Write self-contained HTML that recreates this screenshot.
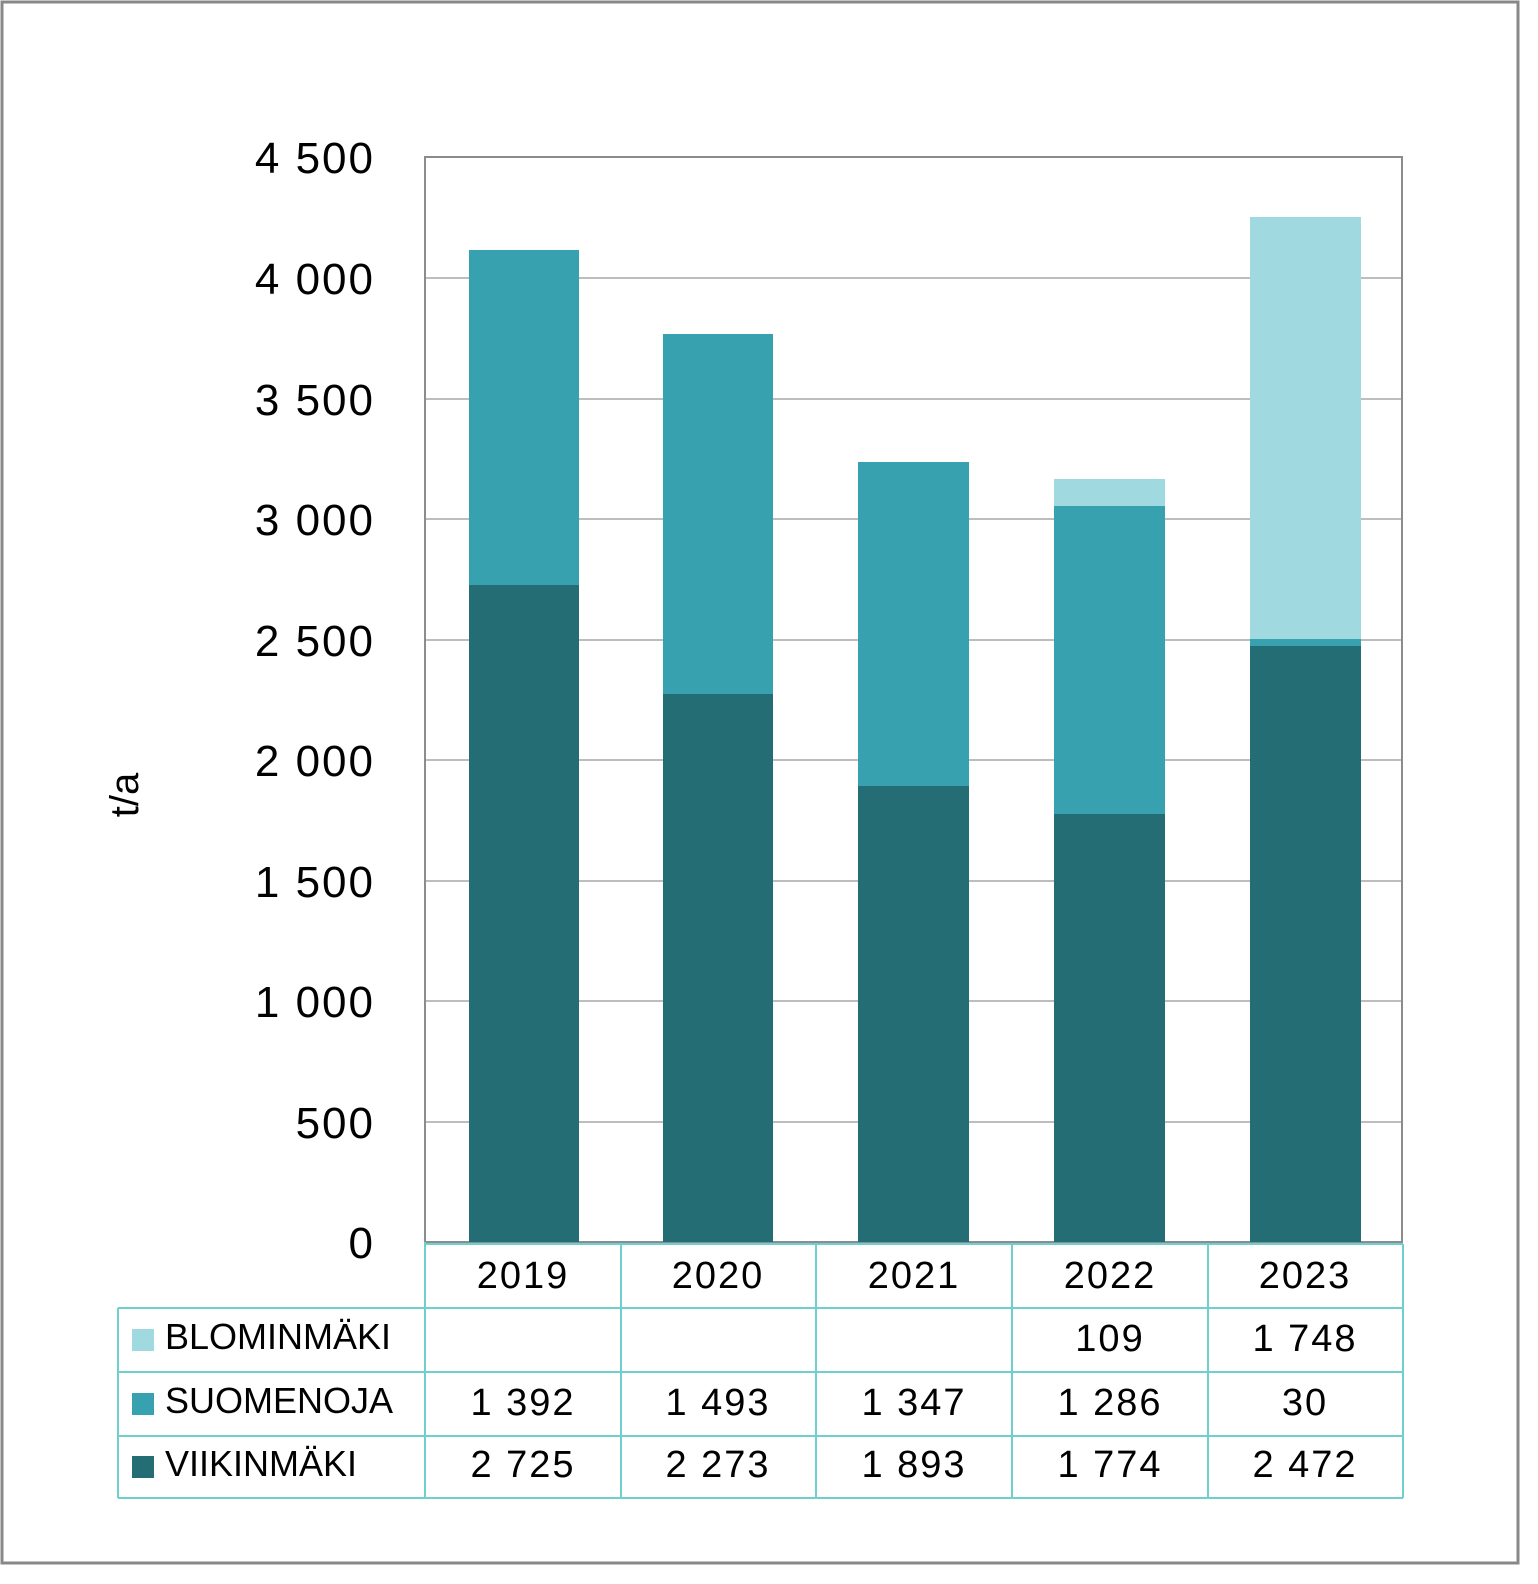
<!DOCTYPE html>
<html><head><meta charset="utf-8"><style>
html,body{margin:0;padding:0;background:#fff;}
body{width:1538px;height:1584px;position:relative;overflow:hidden;font-family:"Liberation Sans","DejaVu Sans",sans-serif;}
</style></head><body>
<svg width="1538" height="1584" xmlns="http://www.w3.org/2000/svg" style="position:absolute;left:0;top:0">
<rect x="2" y="2" width="1516" height="1561" fill="#fff" stroke="#888" stroke-width="3"/>
<g stroke="#bdbdbd" stroke-width="2">
<line x1="425" x2="1402" y1="278" y2="278"/>
<line x1="425" x2="1402" y1="399" y2="399"/>
<line x1="425" x2="1402" y1="519" y2="519"/>
<line x1="425" x2="1402" y1="640" y2="640"/>
<line x1="425" x2="1402" y1="760" y2="760"/>
<line x1="425" x2="1402" y1="881" y2="881"/>
<line x1="425" x2="1402" y1="1001" y2="1001"/>
<line x1="425" x2="1402" y1="1122" y2="1122"/>
</g>
<rect x="425" y="157" width="977" height="1085" fill="none" stroke="#8c8c8c" stroke-width="2"/>
<g>
<rect x="469" y="585" width="110" height="657" fill="#256d75"/>
<rect x="469" y="250" width="110" height="335" fill="#38a1b0"/>
<rect x="663" y="694" width="110" height="548" fill="#256d75"/>
<rect x="663" y="334" width="110" height="360" fill="#38a1b0"/>
<rect x="858" y="786" width="111" height="456" fill="#256d75"/>
<rect x="858" y="462" width="111" height="324" fill="#38a1b0"/>
<rect x="1054" y="814" width="111" height="428" fill="#256d75"/>
<rect x="1054" y="506" width="111" height="308" fill="#38a1b0"/>
<rect x="1054" y="479" width="111" height="27" fill="#a1d9e0"/>
<rect x="1250" y="646" width="111" height="596" fill="#256d75"/>
<rect x="1250" y="639" width="111" height="7" fill="#38a1b0"/>
<rect x="1250" y="217" width="111" height="422" fill="#a1d9e0"/>
</g>
<g font-size="44" fill="#000" text-anchor="end" letter-spacing="2">
<text x="375" y="173">4 500</text>
<text x="375" y="294">4 000</text>
<text x="375" y="415">3 500</text>
<text x="375" y="535">3 000</text>
<text x="375" y="656">2 500</text>
<text x="375" y="776">2 000</text>
<text x="375" y="897">1 500</text>
<text x="375" y="1017">1 000</text>
<text x="375" y="1138">500</text>
<text x="375" y="1258">0</text>
</g>
<text transform="translate(138,795) rotate(-90)" font-size="40" text-anchor="middle">t/a</text>
<g stroke="#6fcfcf" stroke-width="2" fill="none">
<line x1="425" x2="1403" y1="1244" y2="1244"/>
<line x1="118" x2="1403" y1="1308" y2="1308"/>
<line x1="118" x2="1403" y1="1372" y2="1372"/>
<line x1="118" x2="1403" y1="1436" y2="1436"/>
<line x1="118" x2="1403" y1="1498" y2="1498"/>
<line x1="118" x2="118" y1="1308" y2="1498"/>
<line x1="425" x2="425" y1="1242" y2="1498"/>
<line x1="621" x2="621" y1="1244" y2="1498"/>
<line x1="816" x2="816" y1="1244" y2="1498"/>
<line x1="1012" x2="1012" y1="1244" y2="1498"/>
<line x1="1208" x2="1208" y1="1244" y2="1498"/>
<line x1="1403" x2="1403" y1="1244" y2="1498"/>
</g>
<rect x="132" y="1329" width="22" height="22" fill="#a1d9e0"/>
<rect x="132" y="1393" width="22" height="22" fill="#38a1b0"/>
<rect x="132" y="1456" width="22" height="22" fill="#256d75"/>
<g font-size="36" fill="#000">
<text x="165" y="1349">BLOMINMÄKI</text>
<text x="165" y="1413">SUOMENOJA</text>
<text x="165" y="1476">VIIKINMÄKI</text>
</g>
<g font-size="38" fill="#000" text-anchor="middle" letter-spacing="2">
<text x="523" y="1288">2019</text><text x="718" y="1288">2020</text><text x="914" y="1288">2021</text><text x="1110" y="1288">2022</text><text x="1305" y="1288">2023</text>
<text x="1110" y="1351">109</text><text x="1305" y="1351">1 748</text>
<text x="523" y="1415">1 392</text><text x="718" y="1415">1 493</text><text x="914" y="1415">1 347</text><text x="1110" y="1415">1 286</text><text x="1305" y="1415">30</text>
<text x="523" y="1477">2 725</text><text x="718" y="1477">2 273</text><text x="914" y="1477">1 893</text><text x="1110" y="1477">1 774</text><text x="1305" y="1477">2 472</text>
</g>
</svg>
</body></html>
